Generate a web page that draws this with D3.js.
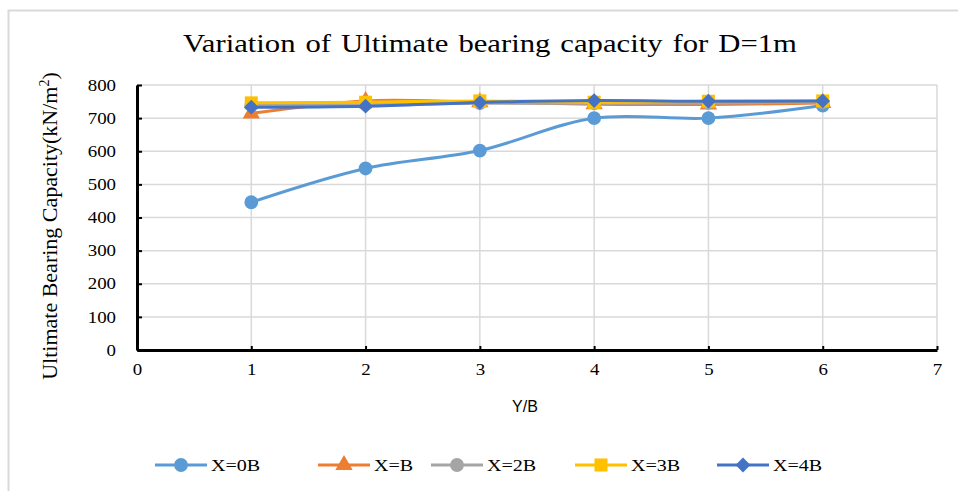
<!DOCTYPE html>
<html>
<head>
<meta charset="utf-8">
<script src="https://cdn.jsdelivr.net/npm/d3@7"></script>
<style>
  body { margin: 0; background: #fff; }
  text { font-family: "Liberation Serif", "Times New Roman", serif; fill: #000; }
</style>
</head>
<body>
<div id="chart"></div>
<script>
const w = 958
const h = 491

// Chart data
const ybValues = [1, 2, 3, 4, 5, 6]
const seriesNames = ["X=0B", "X=B", "X=2B", "X=3B", "X=4B"]
const x0B = [446, 548, 602, 700, 700, 738]
const xB = [714, 752, 748, 742, 741, 746]
const x2B = [740, 742, 745, 745, 746, 748]
const x3B = [746, 748, 752, 748, 751, 752]
const x4B = [733, 736, 747, 753, 751, 752]
const xTicks = [0, 1, 2, 3, 4, 5, 6, 7]
const yTicks = [0, 100, 200, 300, 400, 500, 600, 700, 800]

const colors = ["#5B9BD5", "#ED7D31", "#A5A5A5", "#FFC000", "#4472C4"]
const markers = [d3.symbolCircle, d3.symbolTriangle, d3.symbolCircle, d3.symbolSquare, d3.symbolSquare]
const markerSizes = [150, 130, 150, 170, 110]
const markerRotate = [0, 0, 0, 0, 45]

// the original picture is slightly stretched sideways
const stretch = 1.18

const series = [x0B, xB, x2B, x3B, x4B].map((vals, i) => ({
  name: seriesNames[i],
  values: vals.map((v, j) => [ybValues[j], v])
}))

const svg = d3.select("#chart")
              .append("svg")
                .attr("width", w)
                .attr("height", h)

// outer frame (only top and left edges are visible)
svg.append("path")
    .attr("d", `M8.5,${h} V10.5 H${w}`)
    .attr("fill", "none")
    .attr("stroke", "#d9d9d9")
    .attr("stroke-width", 2)

const xScale = d3.scaleLinear().domain([0, 7]).range([137, 937])
const yScale = d3.scaleLinear().domain([0, 800]).range([350, 85])

// grid lines
svg.append("g")
    .selectAll("line.h")
    .data(yTicks.slice(1))
    .join("line")
      .attr("x1", xScale(0)).attr("x2", xScale(7))
      .attr("y1", d => yScale(d)).attr("y2", d => yScale(d))
      .attr("stroke", "#d9d9d9").attr("stroke-width", 1.5)

svg.append("g")
    .selectAll("line.v")
    .data(xTicks.slice(1))
    .join("line")
      .attr("x1", d => xScale(d)).attr("x2", d => xScale(d))
      .attr("y1", yScale(0)).attr("y2", yScale(800))
      .attr("stroke", "#d9d9d9").attr("stroke-width", 1.5)

// axes
const xAxis = svg.append("g")
    .attr("transform", `translate(0, ${yScale(0)})`)
    .call(d3.axisBottom(xScale).tickValues(xTicks).tickFormat(d3.format("d"))
            .tickSize(-4).tickSizeOuter(0).tickPadding(14))
const yAxis = svg.append("g")
    .attr("transform", `translate(${xScale(0)}, 0)`)
    .call(d3.axisLeft(yScale).tickValues(yTicks).tickSize(-5).tickSizeOuter(0))

;[xAxis, yAxis].forEach(ax => {
  ax.select(".domain").attr("stroke", "#000").attr("stroke-width", 3)
  ax.selectAll(".tick line").attr("stroke", "#000").attr("stroke-width", 2)
  ax.selectAll(".tick text")
      .style("font-family", "'Liberation Serif', serif")
      .attr("font-size", 16)
      .attr("fill", "#000")
      .attr("transform", `scale(${stretch},1)`)
})
yAxis.selectAll(".tick text").attr("x", -21 / stretch)

// lines and markers
const line = d3.line()
    .x(d => xScale(d[0]))
    .y(d => yScale(d[1]))
    .curve(d3.curveCatmullRom.alpha(0.5))

series.forEach((s, i) => {
  svg.append("path")
      .datum(s.values)
      .attr("d", line)
      .attr("fill", "none")
      .attr("stroke", colors[i])
      .attr("stroke-width", 3)
  svg.append("g")
      .selectAll("path")
      .data(s.values)
      .join("path")
        .attr("transform", d => `translate(${xScale(d[0])}, ${yScale(d[1])}) rotate(${markerRotate[i]})`)
        .attr("d", d3.symbol().type(markers[i]).size(markerSizes[i]))
        .attr("fill", colors[i])
})

// title
svg.append("text")
    .attr("transform", `translate(490, 52) scale(${stretch},1)`)
    .attr("text-anchor", "middle")
    .attr("font-size", 26)
    .attr("word-spacing", 2)
    .text("Variation of Ultimate bearing capacity for D=1m")

// axis titles
svg.append("text")
    .attr("x", 525).attr("y", 412)
    .attr("text-anchor", "middle")
    .attr("font-size", 16)
    .style("font-family", "'Liberation Sans', Arial, sans-serif")
    .text("Y/B")

const yTitle = svg.append("text")
    .attr("transform", "translate(57, 226) rotate(-90)")
    .attr("text-anchor", "middle")
    .attr("font-size", 22)
yTitle.append("tspan").text("Ultimate Bearing Capacity(kN/m")
yTitle.append("tspan").attr("font-size", 14).attr("dy", -8).text("2")
yTitle.append("tspan").attr("dy", 8).text(")")

// legend
const legendX = [155, 318, 431, 575, 717]
const legend = svg.append("g")
    .selectAll("g")
    .data(series)
    .join("g")
      .attr("transform", (d, i) => `translate(${legendX[i]}, 465)`)

legend.append("line")
    .attr("x1", 0).attr("x2", 52)
    .attr("stroke", (d, i) => colors[i])
    .attr("stroke-width", 3)
legend.append("path")
    .attr("transform", (d, i) => `translate(26, 0) rotate(${markerRotate[i]})`)
    .attr("d", (d, i) => d3.symbol().type(markers[i]).size(markerSizes[i])())
    .attr("fill", (d, i) => colors[i])
legend.append("text")
    .attr("transform", `translate(56, 6) scale(${stretch},1)`)
    .attr("font-size", 17)
    .text(d => d.name)
</script>
</body>
</html>
